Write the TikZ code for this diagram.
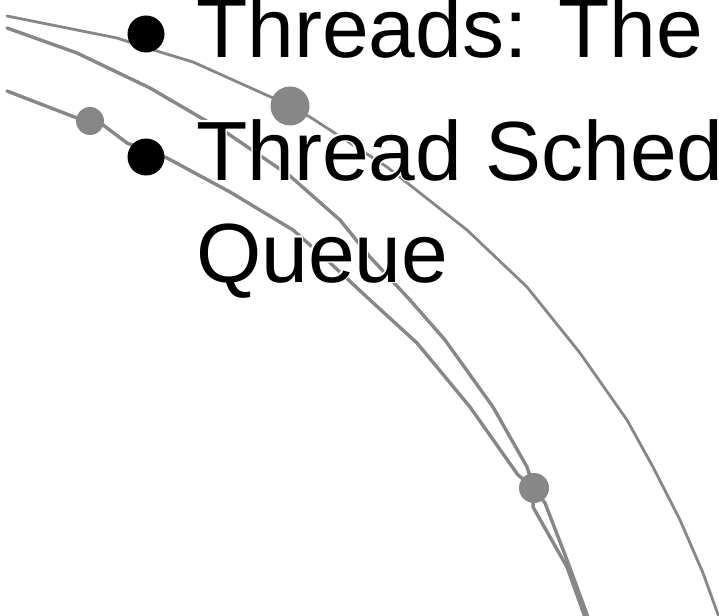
\documentclass[tikz,border=0pt]{standalone}
\usepackage{fontspec}
\setmainfont{Liberation Sans}
\usepackage[copies]{contour}
\contourlength{1.2pt}
\definecolor{curvegray}{HTML}{878787}
\tikzset{
  curve/.style={draw=curvegray, line width=3.4pt, line join=round, line cap=round},
  thincurve/.style={curve, line width=2.8pt},
  gdot/.style={fill=curvegray, draw=none},
  bdot/.style={fill=black, draw=none},
  slidetext/.style={anchor=base west, inner sep=0pt, outer sep=0pt,
    font=\fontsize{84}{102}\selectfont, text=black}
}
\begin{document}
\begin{tikzpicture}[x=1pt,y=-1pt]
\useasboundingbox (0,0) rectangle (719,615);
\clip (0,0) rectangle (719,615);
% curve A (upper)
\draw[thincurve] (7,16) -- (117,38) -- (160,52) -- (193,62) -- (273,98) -- (290,107)
  -- (310,117) -- (387,167) -- (467,230) -- (527,287) -- (580,353) -- (627,420)
  -- (653,467) -- (680,520) -- (703,573) -- (720,620);
% curve B (middle)
\draw[curve] (7,28) -- (77,53) -- (150,88) -- (227,133) -- (290,176) -- (340,220)
  -- (370,257) -- (410,300) -- (445,340) -- (493,407) -- (527,467) -- (534,488)
  -- (545,503) -- (567,560) -- (589,620);
% curve C (lower)
\draw[curve] (7,91) -- (77,118) -- (90,121) -- (103,125) -- (127,143) -- (167,158)
  -- (230,192) -- (293,230) -- (327,260) -- (370,300) -- (417,343) -- (470,407)
  -- (518,475) -- (534,488) -- (533,507) -- (567,567) -- (586,620);
% dots on the curves
\fill[gdot] (290,106) circle[radius=19.5];
\fill[gdot] (90,121) circle[radius=14];
\fill[gdot] (534,488) circle[radius=15];
% text
\node[slidetext] (t1) at (196,58) {\contour{white}{Threads: The}};
\node[slidetext] (t2) at (196,180) {\contour{white}{Thread Sched}};
\node[slidetext] (t3) at (196,282) {\contour{white}{Queue}};
% bullets
\fill[bdot] (146,34) circle[radius=18.5];
\fill[bdot] (146,157) circle[radius=18.5];
\end{tikzpicture}
\end{document}
